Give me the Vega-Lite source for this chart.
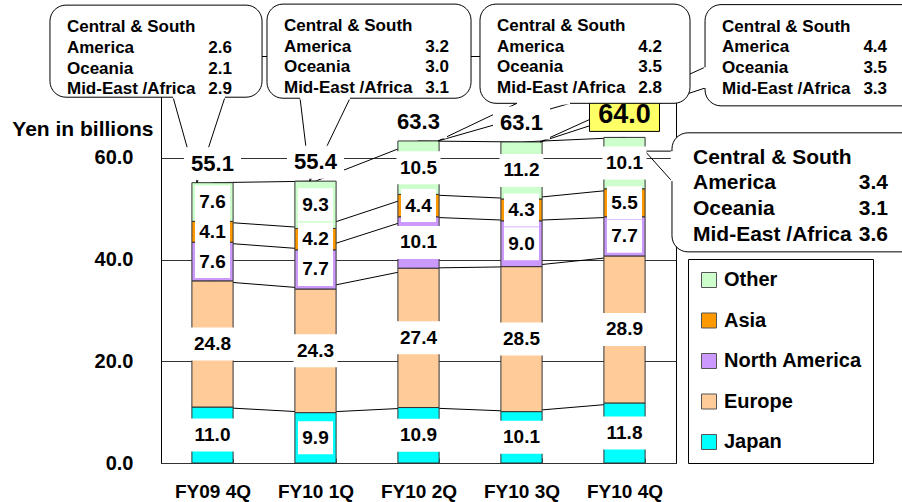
{
  "$schema": "https://vega.github.io/schema/vega-lite/v6.json",
  "width": 515,
  "height": 407,
  "autosize": {"type": "none"},
  "padding": {"left": 161, "top": 56, "right": 226, "bottom": 39},
  "background": "#ffffff",
  "config": {
    "font": "Liberation Sans",
    "view": {"stroke": "#000000", "strokeWidth": 1},
    "text": {"font": "Liberation Sans", "fontWeight": "bold", "color": "#000000"}
  },
  "datasets": {
    "sales": [
      {"quarter": "FY09 4Q", "region": "Japan", "value": 11.0},
      {"quarter": "FY09 4Q", "region": "Europe", "value": 24.8},
      {"quarter": "FY09 4Q", "region": "North America", "value": 7.6},
      {"quarter": "FY09 4Q", "region": "Asia", "value": 4.1},
      {"quarter": "FY09 4Q", "region": "Other", "value": 7.6},
      {"quarter": "FY10 1Q", "region": "Japan", "value": 9.9},
      {"quarter": "FY10 1Q", "region": "Europe", "value": 24.3},
      {"quarter": "FY10 1Q", "region": "North America", "value": 7.7},
      {"quarter": "FY10 1Q", "region": "Asia", "value": 4.2},
      {"quarter": "FY10 1Q", "region": "Other", "value": 9.3},
      {"quarter": "FY10 2Q", "region": "Japan", "value": 10.9},
      {"quarter": "FY10 2Q", "region": "Europe", "value": 27.4},
      {"quarter": "FY10 2Q", "region": "North America", "value": 10.1},
      {"quarter": "FY10 2Q", "region": "Asia", "value": 4.4},
      {"quarter": "FY10 2Q", "region": "Other", "value": 10.5},
      {"quarter": "FY10 3Q", "region": "Japan", "value": 10.1},
      {"quarter": "FY10 3Q", "region": "Europe", "value": 28.5},
      {"quarter": "FY10 3Q", "region": "North America", "value": 9.0},
      {"quarter": "FY10 3Q", "region": "Asia", "value": 4.3},
      {"quarter": "FY10 3Q", "region": "Other", "value": 11.2},
      {"quarter": "FY10 4Q", "region": "Japan", "value": 11.8},
      {"quarter": "FY10 4Q", "region": "Europe", "value": 28.9},
      {"quarter": "FY10 4Q", "region": "North America", "value": 7.7},
      {"quarter": "FY10 4Q", "region": "Asia", "value": 5.5},
      {"quarter": "FY10 4Q", "region": "Other", "value": 10.1}
    ],
    "callouts": [
      {"quarter": "FY09 4Q", "csa": 2.6, "oce": 2.1, "mea": 2.9, "left": -1.578, "right": 0.481, "top": 90.0, "bottom": 71.9, "b1x": -0.383, "b1y": 71.9, "b2x": 0.121, "b2y": 71.9, "tipX": -0.15, "tipY": 55.1},
      {"quarter": "FY10 1Q", "csa": 3.2, "oce": 3.0, "mea": 3.1, "left": 0.529, "right": 2.51, "top": 90.2, "bottom": 71.7, "b1x": 0.85, "b1y": 71.7, "b2x": 1.335, "b2y": 71.7, "tipX": 0.947, "tipY": 55.4},
      {"quarter": "FY10 2Q", "csa": 4.2, "oce": 3.5, "mea": 2.8, "left": 2.597, "right": 4.636, "top": 90.2, "bottom": 70.7, "b1x": 2.956, "b1y": 70.7, "b2x": 3.471, "b2y": 70.7, "tipX": 2.189, "tipY": 63.3},
      {"quarter": "FY10 3Q", "csa": 4.4, "oce": 3.5, "mea": 3.3, "left": 4.782, "right": 6.869, "top": 90.1, "bottom": 70.2, "b1x": 4.782, "b1y": 77.8, "b2x": 4.782, "b2y": 73.7, "tipX": 3.18, "tipY": 63.1},
      {"quarter": "FY10 4Q", "csa": 3.4, "oce": 3.1, "mea": 3.6, "left": 4.461, "right": 7.06, "top": 64.9, "bottom": 41.5, "b1x": 4.461, "b1y": 61.3, "b2x": 4.461, "b2y": 55.4, "tipX": 4.199, "tipY": 61.3}
    ]
  },
  "layer": [
    {
      "data": {"name": "sales"},
      "transform": [
        {"calculate": "indexof(['Japan','Europe','North America','Asia','Other'], datum.region)", "as": "order"},
        {"stack": "value", "groupby": ["quarter"], "sort": [{"field": "order"}], "as": ["lo", "hi"]}
      ],
      "encoding": {
        "x": {
          "field": "quarter", "type": "nominal", "title": null,
          "scale": {"paddingInner": 0.6, "paddingOuter": 0.3},
          "axis": {
            "domain": false, "grid": false, "ticks": true, "tickBand": "extent", "tickSize": -5,
            "tickWidth": 1, "tickOpacity": 1, "tickColor": "#555555",
            "labelAngle": 0, "labelFontSize": 19, "labelFontWeight": "bold",
            "labelColor": "#000000", "labelBaseline": "alphabetic", "labelPadding": 39
          }
        }
      },
      "layer": [
        {
          "mark": {"type": "line", "color": "#000000", "strokeWidth": 1},
          "encoding": {
            "y": {
              "field": "hi", "type": "quantitative",
              "scale": {"domain": [0, 80], "nice": false},
              "axis": {
                "title": "Yen in billions", "values": [0, 20, 40, 60], "format": ".1f",
                "domain": false, "ticks": false, "grid": true, "gridColor": "#333333", "gridWidth": 1,
                "labelFontSize": 20, "labelFontWeight": "bold", "labelColor": "#000000", "labelPadding": 28,
                "titleAngle": 0, "titleX": -8, "titleY": 73, "titleAlign": "right", "titleBaseline": "middle",
                "titleFontSize": 21, "titleFontWeight": "bold", "titleColor": "#000000"
              }
            },
            "detail": {"field": "region"}
          }
        },
        {
          "mark": {"type": "bar", "stroke": "#333333", "strokeWidth": 1},
          "encoding": {
            "y": {"field": "lo", "type": "quantitative", "scale": {"domain": [0, 80], "nice": false}, "axis": null},
            "y2": {"field": "hi"},
            "color": {
              "field": "region", "type": "nominal",
              "scale": {
                "domain": ["Other", "Asia", "North America", "Europe", "Japan"],
                "range": ["#CCFFCC", "#FF9900", "#CC99FF", "#FFCC99", "#00FFFF"]
              },
              "legend": {
                "orient": "none", "legendX": 527, "legendY": 203, "title": null, "direction": "vertical",
                "strokeColor": "#000000", "fillColor": "#ffffff", "padding": 11,
                "symbolType": "square", "symbolSize": 225, "symbolStrokeColor": "#555555", "symbolStrokeWidth": 1,
                "symbolOpacity": 1, "labelFontSize": 20, "labelFontWeight": "bold", "labelColor": "#000000",
                "labelOffset": 5, "rowPadding": 20.5
              }
            }
          }
        }
      ],
      "resolve": {"axis": {"y": "independent"}}
    },
    {
      "data": {"name": "callouts"},
      "layer": [
        {
          "mark": {"type": "rule", "color": "#000000", "strokeWidth": 1},
          "encoding": {
            "x": {"field": "b1x", "type": "quantitative", "scale": {"domain": [-0.5, 4.5], "nice": false, "zero": false}, "axis": null},
            "x2": {"field": "tipX"},
            "y": {"field": "b1y", "type": "quantitative", "scale": {"domain": [0, 80], "nice": false}, "axis": null},
            "y2": {"field": "tipY"}
          }
        },
        {
          "mark": {"type": "rule", "color": "#000000", "strokeWidth": 1},
          "encoding": {
            "x": {"field": "b2x", "type": "quantitative", "scale": {"domain": [-0.5, 4.5], "nice": false, "zero": false}, "axis": null},
            "x2": {"field": "tipX"},
            "y": {"field": "b2y", "type": "quantitative", "scale": {"domain": [0, 80], "nice": false}, "axis": null},
            "y2": {"field": "tipY"}
          }
        }
      ]
    },
    {
      "data": {"name": "sales"},
      "transform": [
        {"calculate": "indexof(['Japan','Europe','North America','Asia','Other'], datum.region)", "as": "order"},
        {"stack": "value", "groupby": ["quarter"], "sort": [{"field": "order"}], "as": ["lo", "hi"]},
        {"calculate": "(datum.lo + datum.hi) / 2", "as": "mid"}
      ],
      "encoding": {
        "x": {"field": "quarter", "type": "nominal", "scale": {"paddingInner": 0.6, "paddingOuter": 0.3}, "axis": null}
      },
      "layer": [
        {
          "mark": {"type": "point", "filled": true, "fill": "#ffffff", "opacity": 1, "strokeWidth": 0},
          "encoding": {
            "y": {"field": "mid", "type": "quantitative", "scale": {"domain": [0, 80], "nice": false}, "axis": null},
            "shape": {"condition": {"test": "datum.value >= 10", "value": "M-1,-0.75H1V0.75H-1Z"}, "value": "M-1,-0.943H1V0.943H-1Z"},
            "size": {"condition": {"test": "datum.value >= 10", "value": 1936}, "value": 1225}
          }
        },
        {
          "mark": {"type": "text", "fontSize": 19, "fontWeight": "bold", "baseline": "middle", "align": "center"},
          "encoding": {
            "y": {"field": "mid", "type": "quantitative", "scale": {"domain": [0, 80], "nice": false}, "axis": null},
            "text": {"field": "value", "type": "quantitative", "format": ".1f"}
          }
        },
        {
          "transform": [
            {"aggregate": [{"op": "sum", "field": "value", "as": "total"}], "groupby": ["quarter"]}
          ],
          "layer": [
            {
              "mark": {"type": "point", "filled": true, "opacity": 1, "strokeWidth": 1,
                       "yOffset": {"expr": "datum.quarter === 'FY10 4Q' ? -22 : -19"}},
              "encoding": {
                "y": {"field": "total", "type": "quantitative", "scale": {"domain": [0, 80], "nice": false}, "axis": null},
                "shape": {"condition": {"test": "datum.quarter === 'FY10 4Q'", "value": "M-1,-0.457H1V0.457H-1Z"}, "value": "M-1,-0.571H1V0.571H-1Z"},
                "size": {"condition": {"test": "datum.quarter === 'FY10 4Q'", "value": 4900}, "value": 3136},
                "fill": {"condition": {"test": "datum.quarter === 'FY10 4Q'", "value": "#FFFF66"}, "value": "#ffffff"},
                "stroke": {"condition": {"test": "datum.quarter === 'FY10 4Q'", "value": "#000000"}, "value": "#ffffff"}
              }
            },
            {
              "mark": {"type": "text", "fontWeight": "bold", "baseline": "middle", "align": "center",
                       "yOffset": {"expr": "datum.quarter === 'FY10 4Q' ? -22 : -19"}},
              "encoding": {
                "y": {"field": "total", "type": "quantitative", "scale": {"domain": [0, 80], "nice": false}, "axis": null},
                "text": {"field": "total", "type": "quantitative", "format": ".1f"},
                "size": {"condition": {"test": "datum.quarter === 'FY10 4Q'", "value": 27}, "value": 22}
              }
            }
          ]
        }
      ]
    },
    {
      "data": {"name": "callouts"},
      "transform": [
        {"calculate": "'\\n' + format(datum.csa, '.1f') + '\\n' + format(datum.oce, '.1f') + '\\n' + format(datum.mea, '.1f')", "as": "vals"}
      ],
      "layer": [
        {
          "mark": {"type": "rect", "fill": "#ffffff", "stroke": "#000000", "strokeWidth": 1, "cornerRadius": 16},
          "encoding": {
            "x": {"field": "left", "type": "quantitative", "scale": {"domain": [-0.5, 4.5], "nice": false, "zero": false}, "axis": null},
            "x2": {"field": "right"},
            "y": {"field": "top", "type": "quantitative", "scale": {"domain": [0, 80], "nice": false}, "axis": null},
            "y2": {"field": "bottom"}
          }
        },
        {
          "mark": {"type": "rule", "color": "#ffffff", "strokeWidth": 2.5},
          "encoding": {
            "x": {"field": "b1x", "type": "quantitative", "scale": {"domain": [-0.5, 4.5], "nice": false, "zero": false}, "axis": null},
            "x2": {"field": "b2x"},
            "y": {"field": "b1y", "type": "quantitative", "scale": {"domain": [0, 80], "nice": false}, "axis": null},
            "y2": {"field": "b2y"}
          }
        },
        {
          "mark": {
            "type": "text", "text": "Central & South\nAmerica\nOceania\nMid-East /Africa", "lineBreak": "\n",
            "align": "left", "baseline": "top", "fontWeight": "bold", "dy": 14,
            "dx": {"expr": "datum.quarter === 'FY10 4Q' ? 21 : 17"},
            "fontSize": {"expr": "datum.quarter === 'FY10 4Q' ? 21 : 17"},
            "lineHeight": {"expr": "datum.quarter === 'FY10 4Q' ? 25.6 : 20.7"}
          },
          "encoding": {
            "x": {"field": "left", "type": "quantitative", "scale": {"domain": [-0.5, 4.5], "nice": false, "zero": false}, "axis": null},
            "y": {"field": "top", "type": "quantitative", "scale": {"domain": [0, 80], "nice": false}, "axis": null}
          }
        },
        {
          "mark": {
            "type": "text", "lineBreak": "\n", "align": "right", "baseline": "top", "fontWeight": "bold", "dy": 14,
            "dx": {"expr": "datum.quarter === 'FY10 4Q' ? 216 : 182"},
            "fontSize": {"expr": "datum.quarter === 'FY10 4Q' ? 21 : 17"},
            "lineHeight": {"expr": "datum.quarter === 'FY10 4Q' ? 25.6 : 20.7"}
          },
          "encoding": {
            "x": {"field": "left", "type": "quantitative", "scale": {"domain": [-0.5, 4.5], "nice": false, "zero": false}, "axis": null},
            "y": {"field": "top", "type": "quantitative", "scale": {"domain": [0, 80], "nice": false}, "axis": null},
            "text": {"field": "vals", "type": "nominal"}
          }
        }
      ]
    }
  ],
  "resolve": {"scale": {"x": "independent"}, "axis": {"y": "independent"}}
}
